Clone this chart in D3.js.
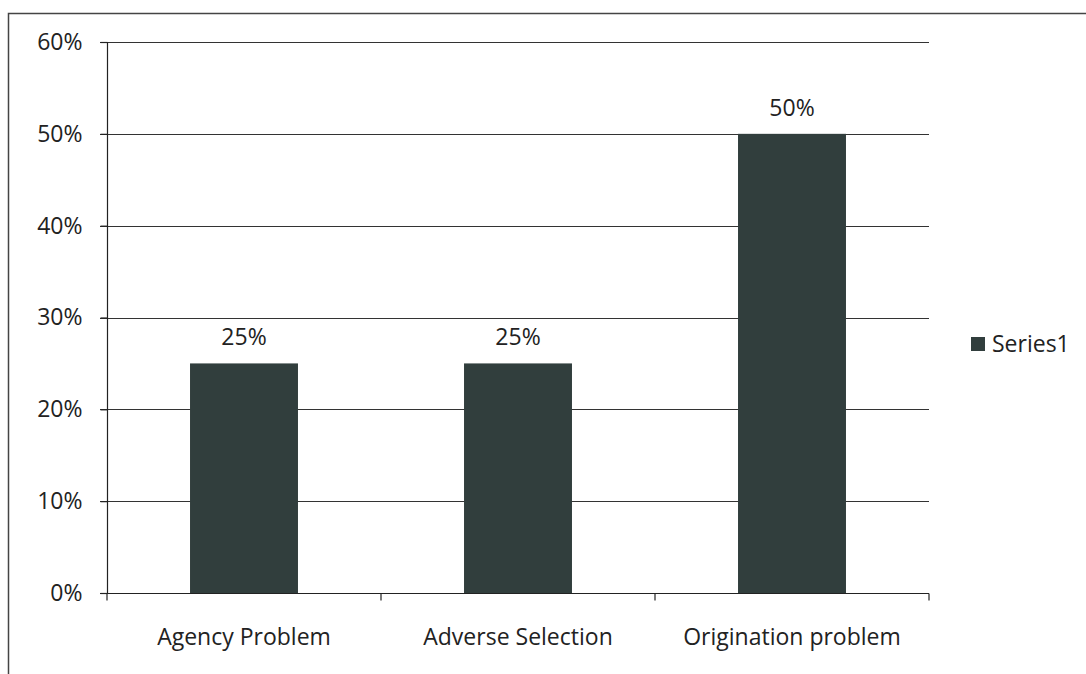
<!DOCTYPE html>
<html><head><meta charset="utf-8">
<script src="https://cdn.jsdelivr.net/npm/d3@7"></script>
<style>body{margin:0;background:#fff}svg{display:block}text{font-family:"Open Sans",Lato,sans-serif;fill:#222}</style>
</head><body>
<svg id="c" width="1086" height="674"></svg>
<script>
const categories = ["Agency Problem", "Adverse Selection", "Origination problem"];
const values = [0.25, 0.25, 0.50];
const yTicks = [0, 0.1, 0.2, 0.3, 0.4, 0.5, 0.6];
const seriesName = "Series1";

const svg = d3.select("#c");
const W = 1086, H = 674;
const m = {left: 107, right: 157, top: 42, bottom: 81};
const FS = 23;

// outer chart border
svg.append("rect").attr("x", 8.5).attr("y", 13.5).attr("width", 1100).attr("height", 700)
  .attr("fill", "none").attr("stroke", "#444").attr("stroke-width", 1.5);

const x = d3.scaleBand().domain(categories).range([m.left, W - m.right]).paddingInner(0.606).paddingOuter(0.303);
const y = d3.scaleLinear().domain([0, 0.6]).range([H - m.bottom, m.top]);

// gridlines
svg.append("g").selectAll("line").data(yTicks.filter(d => d > 0)).join("line")
  .attr("x1", m.left - 7).attr("x2", W - m.right)
  .attr("y1", d => Math.round(y(d)) + 0.5).attr("y2", d => Math.round(y(d)) + 0.5)
  .attr("stroke", "#333").attr("stroke-width", 1.2);

// bars
svg.append("g").selectAll("rect").data(values).join("rect")
  .attr("x", (d, i) => x(categories[i])).attr("width", x.bandwidth())
  .attr("y", d => y(d)).attr("height", d => y(0) - y(d))
  .attr("fill", "#313e3d");

// value labels
svg.append("g").selectAll("text").data(values).join("text")
  .attr("x", (d, i) => x(categories[i]) + x.bandwidth() / 2)
  .attr("y", d => y(d) - 18)
  .attr("text-anchor", "middle").attr("font-size", FS)
  .text(d => d3.format(".0%")(d));

// y axis
const ya = svg.append("g").attr("transform", `translate(${m.left + 0.5},0)`)
  .call(d3.axisLeft(y).tickValues(yTicks).tickFormat(d3.format(".0%")).tickSize(7).tickPadding(18));
ya.selectAll("text").attr("font-size", FS).style("fill", "#222").style("font-family", "'Open Sans',sans-serif");
ya.selectAll("line,path").attr("stroke", "#222").attr("stroke-width", 1.2);
ya.select(".domain").attr("d", `M0,${y(0.6)}V${y(0)}`);

// x axis
const step = x.step();
const bounds = [0, 1, 2, 3].map(i => m.left + i * step);
const xa = svg.append("g").attr("transform", `translate(0,${Math.round(y(0)) + 0.5})`);
xa.append("line").attr("x1", m.left - 7).attr("x2", W - m.right).attr("stroke", "#222").attr("stroke-width", 1.2);
xa.selectAll(".tk").data(bounds).join("line").attr("class", "tk")
  .attr("x1", d => d).attr("x2", d => d).attr("y1", 0).attr("y2", 7)
  .attr("stroke", "#222").attr("stroke-width", 1.2);
xa.selectAll("text").data(categories).join("text")
  .attr("x", d => x(d) + x.bandwidth() / 2).attr("y", 51)
  .attr("text-anchor", "middle").attr("font-size", FS).text(d => d);

// legend
const lg = svg.append("g").attr("transform", "translate(971,337)");
lg.append("rect").attr("width", 14).attr("height", 14).attr("fill", "#313e3d");
lg.append("text").attr("x", 21).attr("y", 15).attr("font-size", FS).text(seriesName);
</script>
</body></html>
